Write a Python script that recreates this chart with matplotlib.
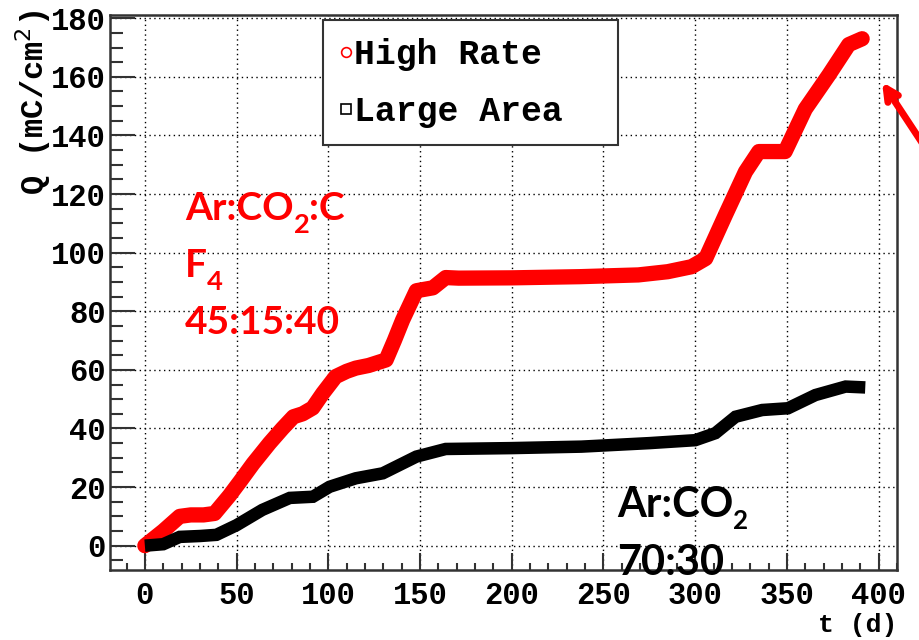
import matplotlib
matplotlib.use('Agg')
import matplotlib.pyplot as plt
from matplotlib.lines import Line2D
from matplotlib.ticker import MultipleLocator

# accumulated charge vs time
t_high = [0, 10, 19, 25, 32, 38, 46, 52, 59, 68, 75, 81, 86, 91.5, 97, 104, 110, 115, 122,
          131.5, 136, 140.5, 148, 157, 164, 171, 200, 237, 269, 285, 298, 305.7, 316.5,
          327.4, 334.7, 342, 349, 360, 372.8, 383.7, 391]
q_high = [0, 5, 10, 10.5, 10.5, 11, 17, 22, 28, 35, 40, 44, 45, 47, 52, 57.7, 59.5, 60.6, 61.5,
          63.4, 70, 77, 87, 88, 91.5, 91.3, 91.4, 91.8, 92.4, 93.5, 95.2, 98, 112.9,
          127.6, 134.5, 134.5, 134.5, 149, 160.6, 171, 173]

t_large = [0, 10, 19, 30, 39, 50, 64, 79, 91.6, 100.7, 115, 129.7, 148, 164, 200, 238, 275,
           300, 311, 322, 336.5, 350.6, 365.5, 382, 392.7]
q_large = [0, 0.5, 3, 3.3, 3.7, 7, 12.2, 16.3, 16.7, 20.1, 23, 24.7, 30.4, 33, 33.3, 33.8, 35,
           36, 38.4, 44, 46.3, 46.9, 51.4, 54.3, 54]

legend_labels = ['High Rate', 'Large Area']
# gas mixture notes: (text, is_subscript)
red_lines = [[('Ar:CO', False), ('2', True), (':C', False)],
             [('F', False), ('4', True)],
             [('45:15:40', False)]]
black_lines = [[('Ar:CO', False), ('2', True)],
               [('70:30', False)]]

mono = 'Liberation Mono'
sans = 'Lato'

fig = plt.figure(figsize=(9.19, 6.40), dpi=100)
ax = fig.add_axes([110 / 919, 70 / 640, 787 / 919, 555 / 640])

ax.plot(t_high, q_high, color='#ff0000', lw=11, solid_joinstyle='round',
        solid_capstyle='round', zorder=3)
ax.plot(t_large, q_large, color='black', lw=9, solid_joinstyle='miter',
        solid_capstyle='butt', zorder=3)

ax.set_xlim(-19, 410)
ax.set_ylim(-8.3, 181.1)
ax.xaxis.set_major_locator(MultipleLocator(50))
ax.xaxis.set_minor_locator(MultipleLocator(10))
ax.yaxis.set_major_locator(MultipleLocator(20))
ax.yaxis.set_minor_locator(MultipleLocator(5))
ax.grid(True, which='major', color='black', linestyle=(0, (1, 2.5)), linewidth=1.0)
ax.tick_params(which='both', direction='in', top=False, right=False, width=1.5,
               color='#333333', labelsize=22)
ax.tick_params(axis='x', which='major', length=12, pad=8)
ax.tick_params(axis='x', which='minor', length=5)
ax.tick_params(axis='y', which='major', length=18, pad=3)
ax.tick_params(axis='y', which='minor', length=9)
for lab in ax.get_xticklabels() + ax.get_yticklabels():
    lab.set_fontfamily(mono)
    lab.set_fontweight('bold')
for sp in ax.spines.values():
    sp.set_linewidth(1.8)
    sp.set_color('#333333')

fig.text(897 / 919, 1 - 625 / 640, 't (d)', ha='right', va='center',
         fontsize=19, family=mono, fontweight='bold')
fig.text(33 / 919, 1 - 10 / 640, 'Q (mC/cm$^{2}$)', ha='center', va='top', rotation=90,
         fontsize=23, family=mono, fontweight='bold')

handles = [Line2D([], [], ls='none', marker='o', ms=7, mfc='none', mec='#ff0000', mew=1.2),
           Line2D([], [], ls='none', marker='s', ms=7, mfc='none', mec='black', mew=1.2)]
leg = ax.legend(handles, legend_labels, loc='upper left',
                bbox_to_anchor=((323 - 110) / 787, 1 - (26 - 15) / 555, 295 / 787, 0.01),
                mode='expand', fancybox=False, framealpha=1, edgecolor='#333333',
                borderaxespad=0, handlelength=0.3, handletextpad=0.1, labelspacing=0.7,
                borderpad=0.5, prop={'family': mono, 'weight': 'bold', 'size': 25})
leg.get_frame().set_linewidth(1.5)
leg.set_zorder(5)

renderer = fig.canvas.get_renderer()


def rich_text(x_px, base_px, parts, size, color, sub_scale, sub_drop):
    # positions in image pixels (top-down); pieces are laid out left to right
    x = x_px
    for s, sub in parts:
        fs = size * sub_scale if sub else size
        y = base_px + (sub_drop if sub else 0)
        t = fig.text(x / 919, 1 - y / 640, s, ha='left', va='baseline', color=color,
                     fontsize=fs, family=sans, fontweight='bold', zorder=10)
        x += t.get_window_extent(renderer).width


for i, parts in enumerate(red_lines):
    rich_text(185, 220 + 57 * i, parts, 28, '#ff0000', 0.7, 13)
for i, parts in enumerate(black_lines):
    rich_text(617, 517 + 58 * i, parts, 30, 'black', 0.62, 12)

# red arrow pointing at the end of the high-rate curve
ax.annotate('', xy=(882 / 919, 1 - 82 / 640), xycoords='figure fraction',
            xytext=(940 / 919, 1 - 170 / 640), textcoords='figure fraction',
            arrowprops=dict(arrowstyle='->,head_length=0.9,head_width=0.45',
                            color='#ff0000', lw=5, shrinkA=0, shrinkB=0),
            annotation_clip=False)

fig.savefig('out.png', dpi=100)
